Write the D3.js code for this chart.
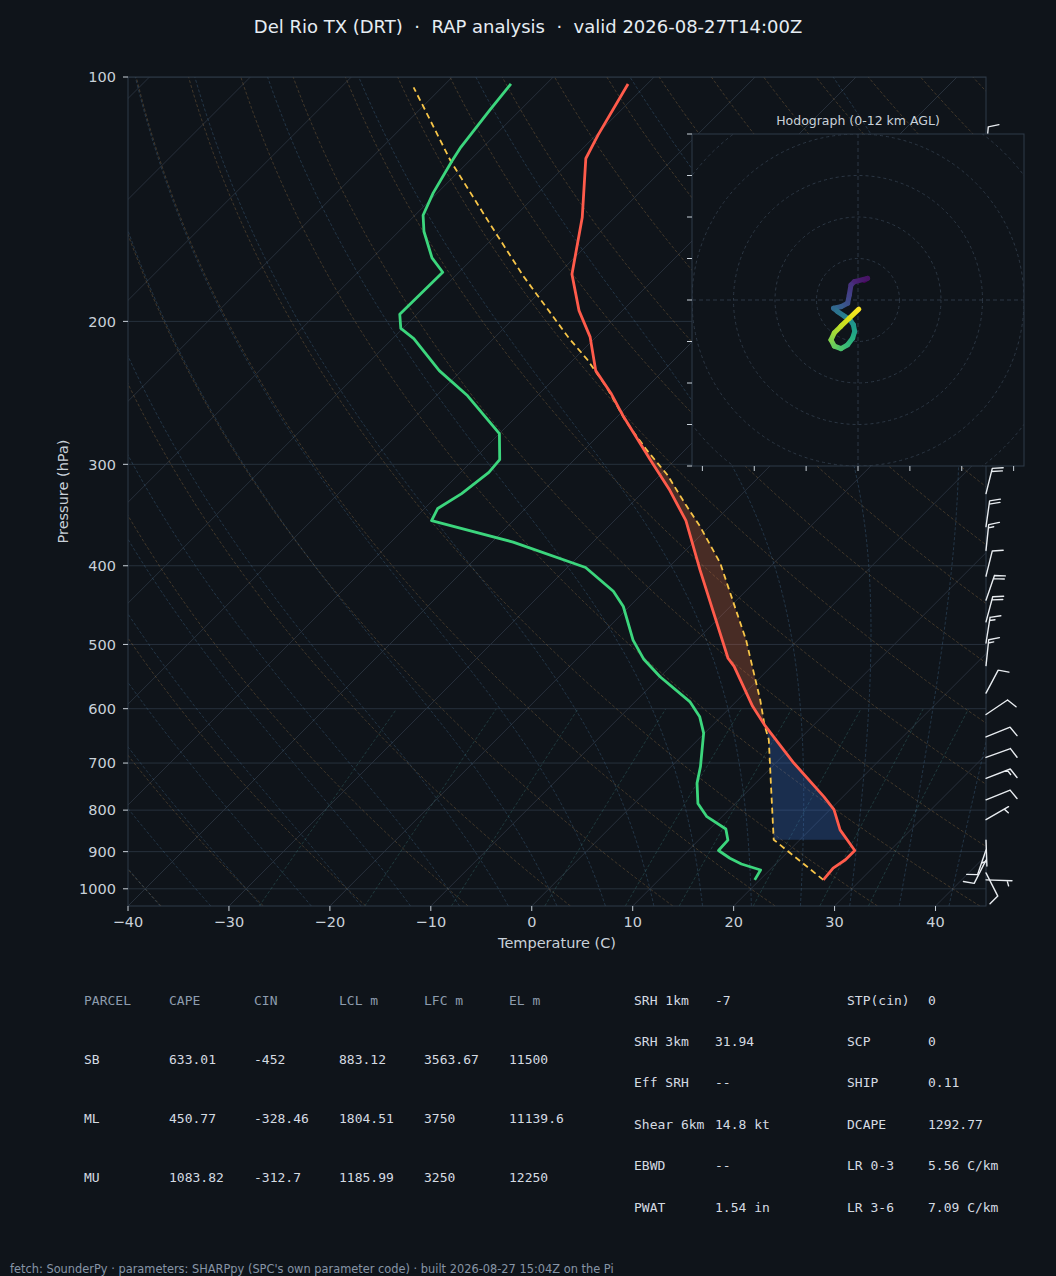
<!DOCTYPE html>
<html>
<head>
<meta charset="utf-8">
<script src="https://cdn.jsdelivr.net/npm/d3@7"></script>
<style>
  body { margin: 0; background: #0f141a; }
  svg { display: block; }
</style>
</head>
<body>
<script>
// ---- sounding (hPa, degC) ----
const envPres = [975, 943, 921, 897, 846, 799, 770, 700, 628, 596, 532, 520, 405, 352, 323, 296, 262, 245, 230, 209, 194, 175, 149, 126, 118, 102]
const envTemp = [26.3, 26.1, 26.5, 26.5, 23.0, 20.4, 18.1, 11.8, 5.1, 2.1, -3.7, -5.1, -16.6, -22.9, -27.5, -32.5, -39.4, -43.0, -46.7, -50.6, -54.3, -58.6, -63.2, -68.7, -69.8, -71.9]

const dewPres = [975, 948, 932, 917, 897, 871, 844, 815, 785, 741, 707, 643, 614, 588, 548, 521, 494, 449, 430, 402, 374, 352, 340, 326, 307, 296, 275, 247, 230, 210, 204, 196, 174, 167, 155, 148, 139, 127, 122, 110, 102]
const dewTemp = [19.5, 19.1, 16.6, 14.9, 13.0, 12.9, 11.6, 8.5, 6.3, 4.2, 2.9, -0.1, -2.1, -4.6, -10.0, -13.4, -16.3, -20.6, -23.1, -28.2, -37.9, -48.1, -48.7, -47.8, -47.2, -47.4, -50.0, -56.9, -62.2, -67.9, -70.2, -71.7, -71.6, -74.1, -77.5, -79.2, -80.4, -81.7, -82.2, -83.0, -83.5]

const parcelPres = [975, 870, 755, 655, 628, 585, 542, 494, 441, 397, 358, 337, 309, 288, 266, 241, 223, 210, 176, 152, 127, 108, 103]
const parcelTemp = [26.3, 17.4, 12.2, 7.0, 5.1, 2.2, -1.1, -5.1, -10.4, -15.3, -20.9, -24.4, -29.3, -33.8, -38.6, -44.0, -48.6, -52.5, -63.2, -71.6, -81.8, -90.3, -92.8]

// wind barbs (hPa, deg from, kt)
const barbPres = [124, 326, 358, 383, 412, 441, 469, 498, 531, 574, 610, 650, 689, 731, 777, 822, 871, 896, 922, 956, 975]
const barbDir  = [5, 14, 8, 6, 14, 19, 15, 9, 6, 28, 56, 68, 70, 69, 68, 60, 178, 199, 207, 153, 92]
const barbSpd  = [10, 20, 20, 15, 10, 20, 20, 15, 15, 10, 10, 10, 10, 15, 10, 5, 5, 10, 10, 10, 5]

// hodograph trace, low -> high
const hodoU = [1.5, 2.3, -0.9, -1.7, -2.1, -2.5, -4.1, -5.9, -4.9, -3.3, -1.9, -1.1, -0.8, -1.3, -2.5, -4.1, -5.7, -6.5, -5.7, -4.1, -2.1, 0.2]
const hodoV = [4.7, 5.2, 4.4, 3.6, 1.2, -0.8, -1.6, -2.0, -2.8, -3.9, -4.8, -6.0, -7.6, -9.2, -10.8, -11.7, -11.1, -9.6, -7.9, -6.3, -4.4, -2.2]
const hodoRings = [10, 20, 30, 40, 50, 60]
const hodoTicksV = [-40, -30, -20, -10, 0, 10, 20, 30, 40]
const hodoTicksU = [-37.5, -25, -12.5, 0, 12.5, 25, 37.5]

// axis ticks
const presTicks = [100, 200, 300, 400, 500, 600, 700, 800, 900, 1000]
const tempTicks = [-40, -30, -20, -10, 0, 10, 20, 30, 40]

// tables
const parcelHeader = ["PARCEL", "CAPE", "CIN", "LCL m", "LFC m", "EL m"]
const parcelRows = [
  ["SB", "633.01", "-452", "883.12", "3563.67", "11500"],
  ["ML", "450.77", "-328.46", "1804.51", "3750", "11139.6"],
  ["MU", "1083.82", "-312.7", "1185.99", "3250", "12250"]
]
const paramLeft = [["SRH 1km", "-7"], ["SRH 3km", "31.94"], ["Eff SRH", "--"], ["Shear 6km", "14.8 kt"], ["EBWD", "--"], ["PWAT", "1.54 in"]]
const paramRight = [["STP(cin)", "0"], ["SCP", "0"], ["SHIP", "0.11"], ["DCAPE", "1292.77"], ["LR 0-3", "5.56 C/km"], ["LR 3-6", "7.09 C/km"]]

const W = 1056, H = 1276
const BG = "#0f141a"
const TXT = "#c9d1d9"
const SPINE = "#2f3a48"
const SANS = "DejaVu Sans, sans-serif"
const MONO = "DejaVu Sans Mono, monospace"

const P = { left: 128, right: 986, top: 77, bottom: 906 }
const x = d3.scaleLinear().domain([-40, 45]).range([P.left, P.right])
const y = d3.scaleLog().domain([1050, 100]).range([P.bottom, P.top])
// skewed x: isotherms run at 45 degrees
const sx = (t, p) => x(t) + (P.bottom - y(p))

const svg = d3.select("body").append("svg").attr("width", W).attr("height", H)
svg.append("rect").attr("width", W).attr("height", H).attr("fill", BG)
const defs = svg.append("defs")
defs.append("clipPath").attr("id", "plotClip")
  .append("rect").attr("x", P.left).attr("y", P.top)
  .attr("width", P.right - P.left).attr("height", P.bottom - P.top)

const line = d3.line().x(d => sx(d[1], d[0])).y(d => y(d[0]))
const pGrid = d3.range(0, 81).map(i => 1050 * Math.pow(100 / 1050, i / 80))

const grid = svg.append("g").attr("clip-path", "url(#plotClip)")

// isobars
grid.selectAll(".isobar").data(presTicks).enter().append("line")
  .attr("x1", P.left).attr("x2", P.right)
  .attr("y1", d => y(d)).attr("y2", d => y(d))
  .attr("stroke", "#27313d").attr("stroke-width", 1)

// isotherms
grid.selectAll(".isotherm").data(d3.range(-160, 51, 10)).enter().append("line")
  .attr("x1", d => sx(d, 1050)).attr("y1", y(1050))
  .attr("x2", d => sx(d, 100)).attr("y2", y(100))
  .attr("stroke", "#2a333f").attr("stroke-width", 0.9)

// dry adiabats
grid.selectAll(".dry").data(d3.range(-50, 201, 10)).enter().append("path")
  .attr("d", t0 => line(pGrid.map(p => [p, (t0 + 273.15) * Math.pow(p / 1000, 0.2857) - 273.15])))
  .attr("fill", "none").attr("stroke", "#8a6a40").attr("stroke-opacity", 0.45)
  .attr("stroke-width", 0.9).attr("stroke-dasharray", "3,2")

// moist adiabats (pseudo-adiabatic lapse, integrated from 1000 hPa)
function satMix(p, tc) {
  const es = 6.112 * Math.exp(17.67 * tc / (tc + 243.5))
  return 0.622 * es / (p - es)
}
function dTdp(p, tk) {
  const rs = satMix(p, tk - 273.15)
  const Rd = 287.04, Cp = 1005.7, Lv = 2.501e6, eps = 0.622
  return (Rd * tk + Lv * rs) / (Cp + Lv * Lv * rs * eps / (Rd * tk * tk)) / p
}
function rk4(p, t, h) {
  const k1 = dTdp(p, t), k2 = dTdp(p + h / 2, t + h * k1 / 2)
  const k3 = dTdp(p + h / 2, t + h * k2 / 2), k4 = dTdp(p + h, t + h * k3)
  return t + h * (k1 + 2 * k2 + 2 * k3 + k4) / 6
}
function moist(t0) {
  const up = [[1000, t0 + 273.15]], down = []
  let t = t0 + 273.15
  for (let p = 1000; p > 100; p -= 5) { t = rk4(p, t, -5); up.push([p - 5, t]) }
  t = t0 + 273.15
  for (let p = 1000; p < 1050; p += 5) { t = rk4(p, t, 5); down.push([p + 5, t]) }
  return down.reverse().concat(up).map(d => [d[0], d[1] - 273.15])
}
grid.selectAll(".moist").data(d3.range(-50, 51, 5)).enter().append("path")
  .attr("d", t0 => line(moist(t0)))
  .attr("fill", "none").attr("stroke", "#4f7fa8").attr("stroke-opacity", 0.35)
  .attr("stroke-width", 0.9).attr("stroke-dasharray", "3,2")

// mixing ratio lines
const mixPres = pGrid.filter(p => p >= 600)
grid.selectAll(".mix").data([0.0004, 0.001, 0.002, 0.004, 0.007, 0.01, 0.016, 0.024, 0.032]).enter().append("path")
  .attr("d", w => line(mixPres.map(p => {
    const e = p * w / (0.622 + w), l = Math.log(e / 6.112)
    return [p, 243.5 * l / (17.67 - l)]
  })))
  .attr("fill", "none").attr("stroke", "#3f8a86").attr("stroke-opacity", 0.35)
  .attr("stroke-width", 0.9).attr("stroke-dasharray", "3,2")

// CAPE / CIN shading between parcel and environment
function interp(ps, ts) {
  return p => {
    const lp = Math.log(p)
    for (let i = 0; i < ps.length - 1; i++) {
      if (p <= ps[i] && p >= ps[i + 1]) {
        const f = (lp - Math.log(ps[i])) / (Math.log(ps[i + 1]) - Math.log(ps[i]))
        return ts[i] + f * (ts[i + 1] - ts[i])
      }
    }
    return NaN
  }
}
const envAt = interp(envPres, envTemp), parAt = interp(parcelPres, parcelTemp)
const pLcl = parcelPres[1]
const fine = d3.range(0, 601).map(i => pLcl * Math.pow(110 / pLcl, i / 600))
  .map(p => ({ p, te: envAt(p), tp: parAt(p) }))
const runs = []
fine.forEach(d => {
  const pos = d.tp > d.te
  const last = runs[runs.length - 1]
  if (!last || last.pos !== pos) runs.push({ pos, pts: [d] })
  else last.pts.push(d)
})
const area = d3.area().x0(d => sx(d.tp, d.p)).x1(d => sx(d.te, d.p)).y(d => y(d.p))
runs.forEach((r, i) => {
  if (r.pos) grid.append("path").attr("d", area(r.pts)).attr("fill", "rgba(230,110,70,0.27)")
  else if (i === 0) grid.append("path").attr("d", area(r.pts)).attr("fill", "rgba(60,120,220,0.27)")
})

// profiles
const prof = svg.append("g").attr("clip-path", "url(#plotClip)").attr("fill", "none")
prof.append("path").attr("d", line(parcelPres.map((p, i) => [p, parcelTemp[i]])))
  .attr("stroke", "#f7c548").attr("stroke-width", 1.8).attr("stroke-dasharray", "6,4")
prof.append("path").attr("d", line(dewPres.map((p, i) => [p, dewTemp[i]])))
  .attr("stroke", "#3cd67d").attr("stroke-width", 2.8).attr("stroke-linejoin", "round")
prof.append("path").attr("d", line(envPres.map((p, i) => [p, envTemp[i]])))
  .attr("stroke", "#ff5b4b").attr("stroke-width", 2.8).attr("stroke-linejoin", "round")

// spines and ticks
svg.append("rect").attr("x", P.left).attr("y", P.top)
  .attr("width", P.right - P.left).attr("height", P.bottom - P.top)
  .attr("fill", "none").attr("stroke", SPINE).attr("stroke-width", 1)

const yAxis = svg.append("g")
yAxis.selectAll("line").data(presTicks).enter().append("line")
  .attr("x1", P.left - 5).attr("x2", P.left).attr("y1", d => y(d)).attr("y2", d => y(d))
  .attr("stroke", TXT)
yAxis.selectAll("text").data(presTicks).enter().append("text")
  .attr("x", P.left - 12).attr("y", d => y(d)).attr("dy", "0.36em")
  .attr("text-anchor", "end").attr("fill", TXT)
  .style("font", `14.5px ${SANS}`).text(d => d)

const xAxis = svg.append("g")
xAxis.selectAll("line").data(tempTicks).enter().append("line")
  .attr("x1", d => x(d)).attr("x2", d => x(d)).attr("y1", P.bottom).attr("y2", P.bottom + 5)
  .attr("stroke", TXT)
xAxis.selectAll("text").data(tempTicks).enter().append("text")
  .attr("x", d => x(d)).attr("y", P.bottom + 16).attr("dy", "0.36em")
  .attr("text-anchor", "middle").attr("fill", TXT)
  .style("font", `14.5px ${SANS}`).text(d => String(d).replace("-", "\u2212"))

svg.append("text").attr("x", (P.left + P.right) / 2).attr("y", 943).attr("dy", "0.36em")
  .attr("text-anchor", "middle").attr("fill", TXT).style("font", `14.5px ${SANS}`)
  .text("Temperature (C)")
svg.append("text").attr("transform", `translate(63,${(P.top + P.bottom) / 2}) rotate(-90)`)
  .attr("dy", "0.36em").attr("text-anchor", "middle").attr("fill", TXT)
  .style("font", `14.5px ${SANS}`).text("Pressure (hPa)")

svg.append("text").attr("x", W / 2).attr("y", 27).attr("dy", "0.36em")
  .attr("text-anchor", "middle").attr("fill", "#e6edf3").style("font", `18px ${SANS}`)
  .style("white-space", "pre").attr("xml:space", "preserve")
  .text("Del Rio TX (DRT)  \u00b7  RAP analysis  \u00b7  valid 2026-08-27T14:00Z")

// wind barbs along the right edge
function barbPath(bx, by, dir, spd) {
  const L = 26, sp = 0.125 * L, fh = 0.4 * L, fw = 0.25 * L
  const r = dir * Math.PI / 180
  const s = [Math.sin(r), -Math.cos(r)]
  const f = [-s[1], s[0]]
  let d = `M${bx},${by}L${bx + s[0] * L},${by + s[1] * L}`
  let n = Math.round(spd / 5) * 5
  const full = Math.floor(n / 10), half = n % 10 >= 5
  let off = L
  for (let i = 0; i < full; i++) {
    const a = [bx + s[0] * off, by + s[1] * off]
    d += `M${a[0]},${a[1]}L${a[0] + f[0] * fh + s[0] * fw / 2},${a[1] + f[1] * fh + s[1] * fw / 2}`
    off -= sp
  }
  if (half) {
    if (off === L) off -= 1.5 * sp
    const a = [bx + s[0] * off, by + s[1] * off]
    d += `M${a[0]},${a[1]}L${a[0] + f[0] * fh / 2 + s[0] * fw / 4},${a[1] + f[1] * fh / 2 + s[1] * fw / 4}`
  }
  return d
}
svg.append("g").selectAll("path").data(barbPres).enter().append("path")
  .attr("d", (p, i) => barbPath(P.right, y(p), barbDir[i], barbSpd[i]))
  .attr("fill", "none").attr("stroke", "#e8ecf0").attr("stroke-width", 1.4)
  .attr("stroke-linecap", "round")

// hodograph inset
const HB = { x: 692, y: 134, s: 332 }
const hu = d3.scaleLinear().domain([-40, 40]).range([HB.x, HB.x + HB.s])
const hv = d3.scaleLinear().domain([-40, 40]).range([HB.y + HB.s, HB.y])
defs.append("clipPath").attr("id", "hodoClip")
  .append("rect").attr("x", HB.x).attr("y", HB.y).attr("width", HB.s).attr("height", HB.s)
const hodo = svg.append("g")
hodo.append("rect").attr("x", HB.x).attr("y", HB.y).attr("width", HB.s).attr("height", HB.s).attr("fill", BG)
const hin = hodo.append("g").attr("clip-path", "url(#hodoClip)")
hin.selectAll("circle").data(hodoRings).enter().append("circle")
  .attr("cx", hu(0)).attr("cy", hv(0)).attr("r", d => hu(d) - hu(0))
  .attr("fill", "none").attr("stroke", "#2c3744").attr("stroke-width", 1).attr("stroke-dasharray", "3,3")
hin.append("line").attr("x1", HB.x).attr("x2", HB.x + HB.s).attr("y1", hv(0)).attr("y2", hv(0))
  .attr("stroke", "#2c3744").attr("stroke-dasharray", "4,3")
hin.append("line").attr("y1", HB.y).attr("y2", HB.y + HB.s).attr("x1", hu(0)).attr("x2", hu(0))
  .attr("stroke", "#2c3744").attr("stroke-dasharray", "4,3")

const nH = hodoU.length
const hcol = i => d3.interpolateViridis(i / (nH - 1))
for (let i = 0; i < nH - 1; i++) {
  const x1 = hu(hodoU[i]), y1 = hv(hodoV[i]), x2 = hu(hodoU[i + 1]), y2 = hv(hodoV[i + 1])
  const gid = "hg" + i
  const gr = defs.append("linearGradient").attr("id", gid).attr("gradientUnits", "userSpaceOnUse")
    .attr("x1", x1).attr("y1", y1).attr("x2", x2).attr("y2", y2)
  gr.append("stop").attr("offset", "0%").attr("stop-color", hcol(i))
  gr.append("stop").attr("offset", "100%").attr("stop-color", hcol(i + 1))
  hin.append("line").attr("x1", x1).attr("y1", y1).attr("x2", x2).attr("y2", y2)
    .attr("stroke", `url(#${gid})`).attr("stroke-width", 5).attr("stroke-linecap", "round")
}

hodo.append("rect").attr("x", HB.x).attr("y", HB.y).attr("width", HB.s).attr("height", HB.s)
  .attr("fill", "none").attr("stroke", SPINE)
hodo.selectAll(".tv").data(hodoTicksV).enter().append("line")
  .attr("x1", HB.x - 5).attr("x2", HB.x).attr("y1", d => hv(d)).attr("y2", d => hv(d))
  .attr("stroke", TXT)
hodo.selectAll(".tu").data(hodoTicksU).enter().append("line")
  .attr("x1", d => hu(d)).attr("x2", d => hu(d)).attr("y1", HB.y + HB.s).attr("y2", HB.y + HB.s + 5)
  .attr("stroke", TXT)
hodo.append("text").attr("x", HB.x + HB.s / 2).attr("y", 120).attr("dy", "0.36em")
  .attr("text-anchor", "middle").attr("fill", TXT).style("font", `12.5px ${SANS}`)
  .text("Hodograph (0-12 km AGL)")

// parameter tables
const tbl = svg.append("g").style("font", `13px ${MONO}`).style("white-space", "pre")
const colX = [84, 169, 254, 339, 424, 509]
parcelHeader.forEach((h, j) => tbl.append("text").attr("x", colX[j]).attr("y", 1000).attr("dy", "0.36em")
  .attr("fill", "#8d9cae").text(h))
parcelRows.forEach((row, i) => row.forEach((v, j) => tbl.append("text")
  .attr("x", colX[j]).attr("y", 1059 + i * 59).attr("dy", "0.36em").attr("fill", "#d5dbe2").text(v)))
paramLeft.forEach((r, i) => {
  tbl.append("text").attr("x", 634).attr("y", 1000 + i * 41.4).attr("dy", "0.36em").attr("fill", "#d5dbe2").text(r[0])
  tbl.append("text").attr("x", 715).attr("y", 1000 + i * 41.4).attr("dy", "0.36em").attr("fill", "#d5dbe2").text(r[1])
})
paramRight.forEach((r, i) => {
  tbl.append("text").attr("x", 847).attr("y", 1000 + i * 41.4).attr("dy", "0.36em").attr("fill", "#d5dbe2").text(r[0])
  tbl.append("text").attr("x", 928).attr("y", 1000 + i * 41.4).attr("dy", "0.36em").attr("fill", "#d5dbe2").text(r[1])
})

svg.append("text").attr("x", 10).attr("y", 1269).attr("dy", "0.36em")
  .attr("fill", "#8795a6").style("font", `11.4px ${SANS}`)
  .text("fetch: SounderPy \u00b7 parameters: SHARPpy (SPC's own parameter code) \u00b7 built 2026-08-27 15:04Z on the Pi")
</script>
</body>
</html>
